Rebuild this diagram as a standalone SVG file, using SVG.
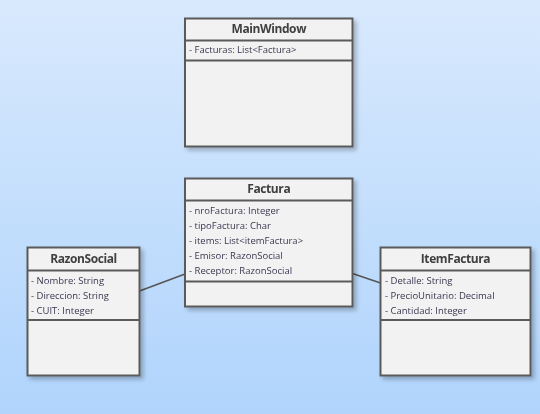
<svg xmlns="http://www.w3.org/2000/svg" width="540" height="414" viewBox="0 0 540 414">
<defs>
<linearGradient id="bg" x1="0" y1="0" x2="0" y2="1">
<stop offset="0" stop-color="#d8e9fd"/>
<stop offset="1" stop-color="#b0d4fc"/>
</linearGradient>
<filter id="sh" x="-10%" y="-10%" width="130%" height="130%">
<feGaussianBlur in="SourceAlpha" stdDeviation="2"/>
<feOffset dx="3" dy="3" result="b"/>
<feComponentTransfer><feFuncA type="linear" slope="0.25"/></feComponentTransfer>
<feMerge><feMergeNode/><feMergeNode in="SourceGraphic"/></feMerge>
</filter>
</defs>
<style>
.box{fill:#f2f2f2;stroke:#5a5a5a;stroke-width:2}
.sep{stroke:#5a5a5a;stroke-width:2}
.title{font-family:"Open Sans","Noto Sans","Liberation Sans",sans-serif;font-weight:bold;font-size:12px;letter-spacing:-0.4px;fill:#404040;text-anchor:middle}
.attr{font-family:"Open Sans","Noto Sans","Liberation Sans",sans-serif;font-size:9.5px;fill:#383850}
.conn{stroke:#555;stroke-width:1.5;fill:none}
</style>
<rect width="540" height="414" fill="url(#bg)"/>
<g id="connectors">
<line class="conn" x1="139.5" y1="291" x2="185" y2="274"/>
<line class="conn" x1="352.5" y1="273.5" x2="380.5" y2="283"/>
</g>
<g id="MainWindow" filter="url(#sh)">
<rect class="box" x="185" y="18.5" width="167.5" height="128"/>
<line class="sep" x1="185" y1="40.5" x2="352.5" y2="40.5"/>
<line class="sep" x1="185" y1="60.5" x2="352.5" y2="60.5"/>
<text class="title" x="268.75" y="33">MainWindow</text>
<text class="attr" x="189" y="53">- Facturas: List&lt;Factura&gt;</text>
</g>
<g id="Factura" filter="url(#sh)">
<rect class="box" x="185" y="178.5" width="167.5" height="128"/>
<line class="sep" x1="185" y1="200.5" x2="352.5" y2="200.5"/>
<line class="sep" x1="185" y1="281.5" x2="352.5" y2="281.5"/>
<text class="title" x="268.75" y="193">Factura</text>
<text class="attr" x="189" y="213.5">- nroFactura: Integer</text>
<text class="attr" x="189" y="228.5">- tipoFactura: Char</text>
<text class="attr" x="189" y="243.5">- items: List&lt;itemFactura&gt;</text>
<text class="attr" x="189" y="258.5">- Emisor: RazonSocial</text>
<text class="attr" x="189" y="273.5">- Receptor: RazonSocial</text>
</g>
<g id="RazonSocial" filter="url(#sh)">
<rect class="box" x="27.5" y="247.5" width="112" height="128"/>
<line class="sep" x1="27.5" y1="270.5" x2="139.5" y2="270.5"/>
<line class="sep" x1="27.5" y1="320" x2="139.5" y2="320"/>
<text class="title" x="83.5" y="263">RazonSocial</text>
<text class="attr" x="31" y="283.5">- Nombre: String</text>
<text class="attr" x="31" y="298.5">- Direccion: String</text>
<text class="attr" x="31" y="313.5">- CUIT: Integer</text>
</g>
<g id="ItemFactura" filter="url(#sh)">
<rect class="box" x="380.5" y="247.5" width="150" height="128"/>
<line class="sep" x1="380.5" y1="270.5" x2="530.5" y2="270.5"/>
<line class="sep" x1="380.5" y1="320" x2="530.5" y2="320"/>
<text class="title" x="455.5" y="263">ItemFactura</text>
<text class="attr" x="385" y="283.5">- Detalle: String</text>
<text class="attr" x="385" y="298.5">- PrecioUnitario: Decimal</text>
<text class="attr" x="385" y="313.5">- Cantidad: Integer</text>
</g>
</svg>
